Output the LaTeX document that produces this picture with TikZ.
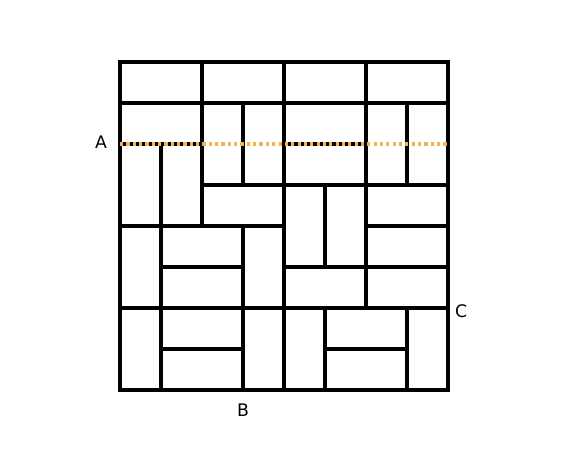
\documentclass[tikz,border=0pt]{standalone}
\usepackage{fontspec}
\setmainfont{DejaVu Sans}
\usetikzlibrary{positioning}
\definecolor{CutOrange}{HTML}{F2B24E}

\begin{document}
\begin{tikzpicture}[
    x=1cm,
    y=1cm,
    font=\fontsize{12}{14}\selectfont,
    domino/.style={draw=black, line width=3pt},
    cutline/.style={CutOrange, line width=2.2pt, dash pattern=on 2.2pt off 2.2pt}
]

% Canvas
\useasboundingbox (-2.927,-1.683) rectangle (11.073,9.512);

% Horizontal dominoes
\foreach \x/\y in {
0/7, 2/7, 4/7, 6/7,
0/6, 4/6, 4/5,
2/4, 6/4,
1/3, 6/3,
1/2, 4/2, 6/2,
1/1, 5/1,
1/0, 5/0
}{
    \draw[domino]
    (\x,\y) rectangle ++(2,1);
}

% Vertical dominoes
\foreach \x/\y in {
2/5, 3/5, 6/5, 7/5,
0/4, 1/4,
4/3, 5/3,
0/2, 3/2,
0/0, 3/0, 4/0, 7/0
}{
    \draw[domino]
    (\x,\y) rectangle ++(1,2);
}

% Cut line
\coordinate (cutL) at (0,6);
\coordinate (cutR) at (8,6);
\draw[cutline] (cutL) -- (cutR);

% Labels
\node (labA) at (-0.46,6.05) {A};
\node (labB) at (3.0,-0.49) {B};
\node (labC) at (8.32,1.93) {C};

\end{tikzpicture}
\end{document}
